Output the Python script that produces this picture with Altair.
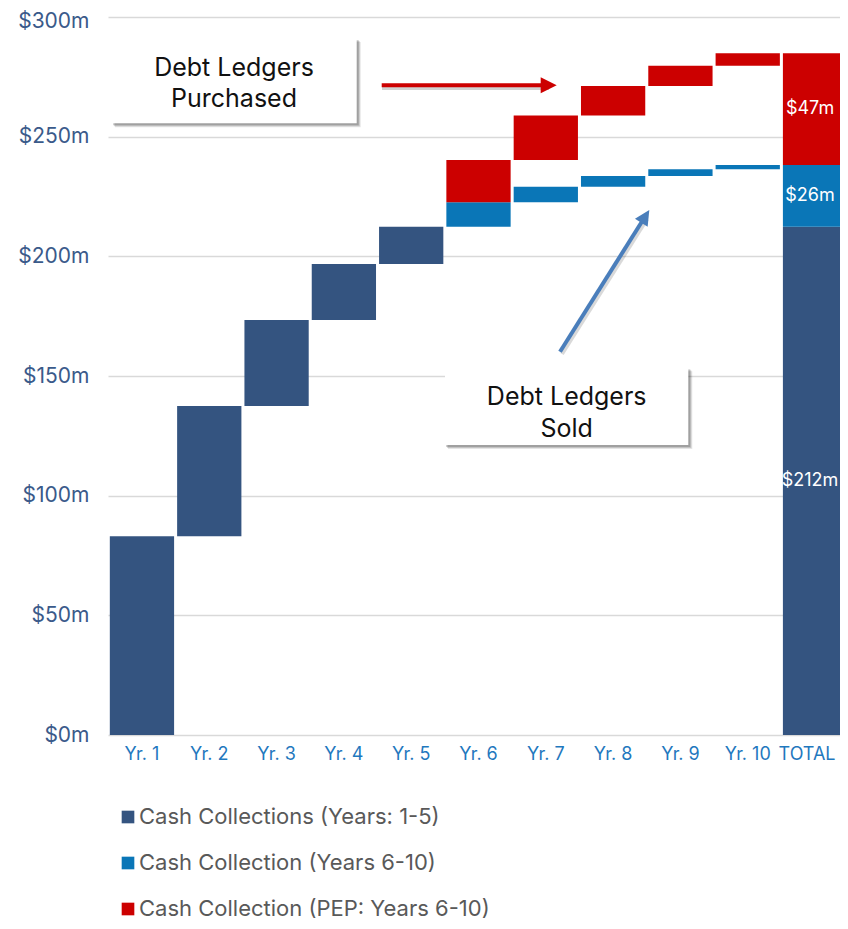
import altair as alt
import pandas as pd

categories = ["Yr. 1", "Yr. 2", "Yr. 3", "Yr. 4", "Yr. 5", "Yr. 6", "Yr. 7", "Yr. 8", "Yr. 9", "Yr. 10", "TOTAL"]
series_names = ["Cash Collections (Years: 1-5)", "Cash Collection (Years 6-10)", "Cash Collection (PEP: Years 6-10)"]
series_colors = ["#345480", "#0A76B7", "#CC0000"]

dark_cats = ["Yr. 1", "Yr. 2", "Yr. 3", "Yr. 4", "Yr. 5", "TOTAL"]
dark_low = [0, 83.0, 137.5, 173.4, 196.8, 0]
dark_high = [83.0, 137.5, 173.4, 196.8, 212.4, 212.4]

blue_cats = ["Yr. 6", "Yr. 7", "Yr. 8", "Yr. 9", "Yr. 10", "TOTAL"]
blue_low = [212.4, 222.6, 229.1, 233.6, 236.4, 212.4]
blue_high = [222.6, 229.1, 233.6, 236.4, 238.2, 238.2]

red_cats = ["Yr. 6", "Yr. 7", "Yr. 8", "Yr. 9", "Yr. 10", "TOTAL"]
red_low = [222.6, 240.3, 258.8, 271.2, 279.6, 238.2]
red_high = [240.3, 258.8, 271.2, 279.6, 284.9, 284.9]

total_labels = ["$212m", "$26m", "$47m"]
y_ticks = [0, 50, 100, 150, 200, 250, 300]

rows = []
for name, cats, lows, highs in zip(series_names,
                                   [dark_cats, blue_cats, red_cats],
                                   [dark_low, blue_low, red_low],
                                   [dark_high, blue_high, red_high]):
    for c, lo, hi in zip(cats, lows, highs):
        rows.append({"cat": c, "series": name, "low": lo, "high": hi})
bars_df = pd.DataFrame(rows)

lab_df = pd.DataFrame({
    "cat": ["TOTAL"] * 3,
    "low": [dark_low[-1], blue_low[-1], red_low[-1]],
    "high": [dark_high[-1], blue_high[-1], red_high[-1]],
    "label": total_labels,
})

FONT = "Inter"

x_scale = alt.Scale(domain=categories, range=[0, 741], paddingInner=0.045, paddingOuter=0.027)
y_scale = alt.Scale(domain=[0, 300], nice=False)

bars = alt.Chart(bars_df).mark_bar().encode(
    x=alt.X("cat:N", sort=categories, scale=x_scale,
            axis=alt.Axis(title=None, labelAngle=0, labelColor="#1F78BE", labelFontSize=18,
                          labelPadding=10, domain=False, ticks=False, grid=False, labelFont=FONT,
                          labelOffset={"condition": {"test": "datum.value == 'TOTAL'", "value": -8},
                                       "value": 0})),
    y=alt.Y("low:Q", scale=y_scale,
            axis=alt.Axis(title=None, values=y_ticks, labelExpr="'$' + datum.value + 'm'",
                          labelColor="#3A5A8A", labelFontSize=21, labelPadding=19,
                          domain=False, ticks=False, tickSize=0, grid=True,
                          gridColor="#D9D9D9", gridWidth=1.5, labelFont=FONT,
                          labelOffset={"condition": {"test": "datum.value == 300", "value": 4},
                                       "value": 0})),
    y2="high:Q",
    color=alt.Color("series:N", sort=series_names,
                    scale=alt.Scale(domain=series_names, range=series_colors),
                    legend=alt.Legend(title=None, orient="none", legendX=9, legendY=789,
                                      direction="vertical", symbolType="square", symbolSize=160,
                                      symbolStrokeWidth=0, labelFontSize=22, labelColor="#595959",
                                      labelFont=FONT, rowPadding=24, labelOffset=0,
                                      labelLimit=600, padding=0)),
)

labels = alt.Chart(lab_df).transform_calculate(
    mid="(datum.low + datum.high) / 2"
).mark_text(color="white", fontSize=18, font=FONT, align="center", baseline="middle", dx=-5).encode(
    x=alt.X("cat:N", sort=categories, scale=x_scale),
    y=alt.Y("mid:Q", scale=y_scale),
    text="label:N",
)

one = pd.DataFrame({"k": [0]})


def box(x1, x2, y1, y2):
    layers = []
    for off, op in [(4, 0.10), (3, 0.14), (2, 0.18)]:
        layers.append(alt.Chart(one).mark_rect(color="#000000", opacity=op).encode(
            x=alt.value(x1 + off - 1), x2=alt.value(x2 + off), y=alt.value(y1 + off - 1), y2=alt.value(y2 + off)))
    layers.append(alt.Chart(one).mark_rect(color="white").encode(
        x=alt.value(x1), x2=alt.value(x2), y=alt.value(y1), y2=alt.value(y2)))
    return layers


def txt(s, x, y):
    return alt.Chart(one).mark_text(fontSize=25, font=FONT, color="#111111",
                                    align="center", baseline="alphabetic").encode(
        x=alt.value(x), y=alt.value(y), text=alt.value(s))


# red arrow
red_shadow = alt.Chart(one).mark_rule(color="#000000", opacity=0.18, strokeWidth=4).encode(
    x=alt.value(274), x2=alt.value(441), y=alt.value(71), y2=alt.value(71))
red_line = alt.Chart(one).mark_rule(color="#CC0000", strokeWidth=4).encode(
    x=alt.value(273.7), x2=alt.value(441), y=alt.value(68.3), y2=alt.value(68.3))
red_head = alt.Chart(one).mark_point(shape="M1,0L-1,-1L-1,1Z", filled=True, color="#CC0000",
                                     size=256, opacity=1).encode(
    x=alt.value(440.7), y=alt.value(68.3))

# blue arrow
blue_shadow = alt.Chart(one).mark_rule(color="#000000", opacity=0.15, strokeWidth=4).encode(
    x=alt.value(454), x2=alt.value(539), y=alt.value(337), y2=alt.value(202))
blue_line = alt.Chart(one).mark_rule(color="#4A7EBB", strokeWidth=4).encode(
    x=alt.value(452), x2=alt.value(537.3), y=alt.value(334.7), y2=alt.value(199.3))
blue_head = alt.Chart(one).mark_point(shape="M0,-1L1,1L-1,1Z", filled=True, color="#4A7EBB",
                                      size=225, opacity=1, angle=32.2).encode(
    x=alt.value(537.3), y=alt.value(199.3))

layers = [bars, labels]
layers += box(4, 248.7, 22, 106.3)
layers += [txt("Debt Ledgers", 126, 58.7), txt("Purchased", 126, 89.7)]
layers += box(337, 580.3, 351.3, 428)
layers += [txt("Debt Ledgers", 458.7, 388), txt("Sold", 458.7, 420.3)]
layers += [red_shadow, red_line, red_head, blue_shadow, blue_line, blue_head]

chart = alt.layer(*layers).properties(
    width=732, height=718,
    autosize=alt.AutoSizeParams(type="none"),
    padding={"left": 100, "top": 9, "right": 0, "bottom": 186},
).configure(font=FONT).configure_view(stroke=None)

chart.save("out.html", embed_options={"renderer": "svg", "actions": False})
